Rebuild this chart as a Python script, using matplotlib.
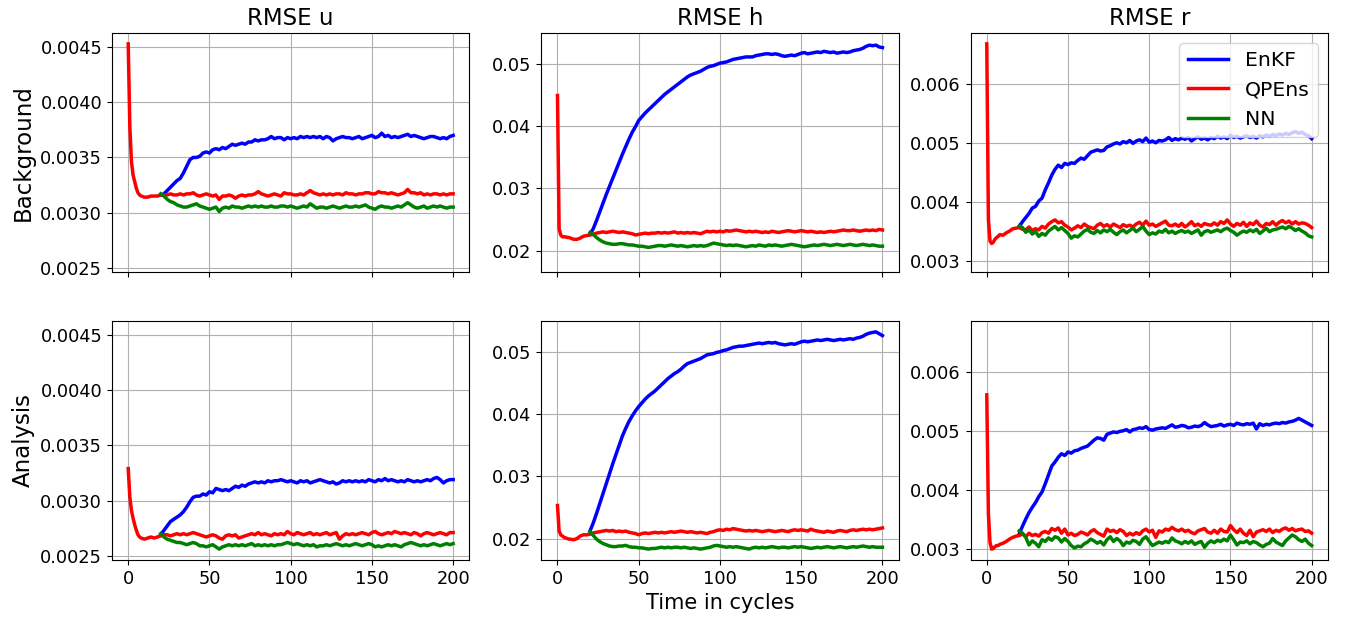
import matplotlib
matplotlib.use("Agg")
import matplotlib.pyplot as plt

# ---------------- data ----------------
HEAD_CYCLES = [0, 1, 2, 3, 4, 5, 6, 7, 8, 10, 12, 14, 16, 18]
CYCLES = list(range(20, 201, 2))

variables = ["u", "h", "r"]
rows = ["Background", "Analysis"]
methods = ["EnKF", "QPEns", "NN"]
colors = ["blue", "red", "green"]

# ---- Background, u ----
u_bg_qpens_head = [0.00453, 0.00378, 0.00346, 0.00334, 0.00328, 0.00322, 0.00318, 0.00316, 0.00315,
                   0.00314, 0.00314, 0.00315, 0.00315, 0.00315]
u_bg_qpens = [0.00316, 0.00316, 0.00316, 0.00317, 0.00316, 0.00316, 0.00317, 0.00316, 0.00317, 0.00317,
              0.00318, 0.00316, 0.00315, 0.00316, 0.00317, 0.00316, 0.00315, 0.00316, 0.00312, 0.00315,
              0.00315, 0.00316, 0.00315, 0.00313, 0.00315, 0.00316, 0.00315, 0.00316, 0.00316, 0.00317,
              0.00319, 0.00317, 0.00316, 0.00315, 0.00316, 0.00317, 0.00316, 0.00315, 0.00318, 0.00317,
              0.00317, 0.00316, 0.00316, 0.00317, 0.00316, 0.00318, 0.00320, 0.00318, 0.00317, 0.00316,
              0.00317, 0.00316, 0.00317, 0.00316, 0.00317, 0.00317, 0.00316, 0.00318, 0.00317, 0.00317,
              0.00316, 0.00317, 0.00317, 0.00318, 0.00318, 0.00317, 0.00317, 0.00319, 0.00318, 0.00318,
              0.00317, 0.00318, 0.00317, 0.00316, 0.00317, 0.00318, 0.00321, 0.00318, 0.00318, 0.00317,
              0.00318, 0.00316, 0.00317, 0.00316, 0.00317, 0.00317, 0.00316, 0.00317, 0.00316, 0.00317,
              0.00317]
u_bg_enkf = [0.00316, 0.00317, 0.00320, 0.00323, 0.00326, 0.00329, 0.00331, 0.00336, 0.00342, 0.00348,
             0.00350, 0.00350, 0.00351, 0.00354, 0.00355, 0.00354, 0.00357, 0.00358, 0.00357, 0.00359,
             0.00358, 0.00360, 0.00362, 0.00361, 0.00362, 0.00363, 0.00362, 0.00364, 0.00364, 0.00366,
             0.00365, 0.00366, 0.00366, 0.00367, 0.00369, 0.00367, 0.00368, 0.00368, 0.00366, 0.00368,
             0.00367, 0.00368, 0.00367, 0.00369, 0.00368, 0.00369, 0.00368, 0.00369, 0.00368, 0.00369,
             0.00367, 0.00369, 0.00368, 0.00365, 0.00367, 0.00368, 0.00369, 0.00368, 0.00368, 0.00367,
             0.00368, 0.00369, 0.00367, 0.00368, 0.00369, 0.00370, 0.00368, 0.00369, 0.00372, 0.00369,
             0.00370, 0.00368, 0.00369, 0.00368, 0.00369, 0.00370, 0.00371, 0.00369, 0.00370, 0.00369,
             0.00368, 0.00367, 0.00368, 0.00369, 0.00369, 0.00368, 0.00367, 0.00368, 0.00367, 0.00369,
             0.00370]
u_bg_nn = [0.00317, 0.00315, 0.00312, 0.00310, 0.00309, 0.00307, 0.00306, 0.00305, 0.00305, 0.00306,
           0.00307, 0.00308, 0.00306, 0.00305, 0.00304, 0.00303, 0.00304, 0.00305, 0.00301, 0.00304,
           0.00305, 0.00304, 0.00306, 0.00305, 0.00305, 0.00304, 0.00305, 0.00306, 0.00305, 0.00306,
           0.00305, 0.00306, 0.00305, 0.00305, 0.00306, 0.00305, 0.00305, 0.00306, 0.00306, 0.00305,
           0.00306, 0.00305, 0.00304, 0.00305, 0.00306, 0.00305, 0.00308, 0.00306, 0.00304, 0.00305,
           0.00305, 0.00304, 0.00305, 0.00306, 0.00305, 0.00304, 0.00305, 0.00306, 0.00305, 0.00305,
           0.00306, 0.00305, 0.00306, 0.00307, 0.00305, 0.00304, 0.00303, 0.00305, 0.00306, 0.00305,
           0.00305, 0.00304, 0.00305, 0.00306, 0.00305, 0.00307, 0.00309, 0.00307, 0.00305, 0.00304,
           0.00305, 0.00306, 0.00304, 0.00305, 0.00306, 0.00305, 0.00306, 0.00305, 0.00304, 0.00305,
           0.00305]

# ---- Background, h ----
h_bg_qpens_head = [0.0449, 0.0235, 0.0225, 0.0222, 0.0222, 0.0222, 0.0221, 0.0221, 0.0220,
                   0.0218, 0.0218, 0.0220, 0.0223, 0.0224]
h_bg_qpens = [0.0225, 0.0226, 0.0228, 0.0229, 0.0230, 0.0229, 0.0230, 0.0231, 0.0230, 0.0229,
              0.0230, 0.0229, 0.0228, 0.0227, 0.0225, 0.0226, 0.0227, 0.0228, 0.0227, 0.0228,
              0.0228, 0.0229, 0.0228, 0.0229, 0.0228, 0.0229, 0.0230, 0.0228, 0.0229, 0.0228,
              0.0229, 0.0228, 0.0229, 0.0228, 0.0227, 0.0229, 0.0231, 0.0230, 0.0231, 0.0230,
              0.0231, 0.0230, 0.0232, 0.0231, 0.0232, 0.0233, 0.0232, 0.0231, 0.0230, 0.0231,
              0.0230, 0.0231, 0.0230, 0.0229, 0.0230, 0.0229, 0.0231, 0.0230, 0.0229, 0.0230,
              0.0231, 0.0232, 0.0231, 0.0230, 0.0231, 0.0232, 0.0231, 0.0230, 0.0231, 0.0230,
              0.0229, 0.0230, 0.0229, 0.0230, 0.0231, 0.0230, 0.0231, 0.0232, 0.0233, 0.0232,
              0.0232, 0.0233, 0.0232, 0.0231, 0.0232, 0.0233, 0.0232, 0.0233, 0.0232, 0.0234,
              0.0233]
h_bg_enkf = [0.0226, 0.0235, 0.0248, 0.0262, 0.0276, 0.0290, 0.0303, 0.0316, 0.0329, 0.0342,
             0.0355, 0.0367, 0.0379, 0.0390, 0.0399, 0.0409, 0.0415, 0.0421, 0.0426, 0.0431,
             0.0436, 0.0441, 0.0446, 0.0451, 0.0455, 0.0459, 0.0463, 0.0467, 0.0471, 0.0475,
             0.0479, 0.0482, 0.0484, 0.0486, 0.0488, 0.0491, 0.0494, 0.0496, 0.0497, 0.0499,
             0.0501, 0.0502, 0.0503, 0.0505, 0.0507, 0.0508, 0.0509, 0.0510, 0.0511, 0.0511,
             0.0511, 0.0513, 0.0514, 0.0515, 0.0516, 0.0516, 0.0515, 0.0516, 0.0515, 0.0513,
             0.0512, 0.0513, 0.0514, 0.0513, 0.0515, 0.0517, 0.0518, 0.0516, 0.0517, 0.0518,
             0.0519, 0.0518, 0.0520, 0.0519, 0.0518, 0.0519, 0.0517, 0.0518, 0.0519, 0.0518,
             0.0519, 0.0521, 0.0522, 0.0523, 0.0525, 0.0528, 0.0530, 0.0529, 0.0530, 0.0527,
             0.0526]
h_bg_nn = [0.0229, 0.0226, 0.0221, 0.0217, 0.0214, 0.0212, 0.0211, 0.0210, 0.0210, 0.0211,
           0.0211, 0.0210, 0.0209, 0.0209, 0.0208, 0.0207, 0.0207, 0.0206, 0.0205, 0.0206,
           0.0207, 0.0208, 0.0208, 0.0207, 0.0208, 0.0209, 0.0208, 0.0207, 0.0208, 0.0207,
           0.0206, 0.0207, 0.0208, 0.0207, 0.0208, 0.0207, 0.0208, 0.0210, 0.0212, 0.0211,
           0.0210, 0.0209, 0.0208, 0.0209, 0.0208, 0.0209, 0.0208, 0.0207, 0.0206, 0.0207,
           0.0208, 0.0207, 0.0209, 0.0208, 0.0207, 0.0209, 0.0208, 0.0209, 0.0208, 0.0207,
           0.0208, 0.0209, 0.0210, 0.0209, 0.0208, 0.0207, 0.0206, 0.0207, 0.0208, 0.0209,
           0.0208, 0.0209, 0.0210, 0.0209, 0.0208, 0.0209, 0.0210, 0.0209, 0.0208, 0.0209,
           0.0210, 0.0209, 0.0208, 0.0209, 0.0210, 0.0209, 0.0208, 0.0209, 0.0208, 0.0207,
           0.0207]

# ---- Background, r ----
r_bg_qpens_head = [0.00668, 0.00370, 0.00333, 0.00329, 0.00331, 0.00336, 0.00339, 0.00341, 0.00344,
                   0.00343, 0.00347, 0.00350, 0.00354, 0.00355]
r_bg_qpens = [0.00356, 0.00353, 0.00352, 0.00357, 0.00351, 0.00354, 0.00352, 0.00358, 0.00355, 0.00362,
              0.00366, 0.00369, 0.00364, 0.00366, 0.00360, 0.00357, 0.00352, 0.00355, 0.00359, 0.00356,
              0.00362, 0.00358, 0.00356, 0.00354, 0.00360, 0.00363, 0.00358, 0.00361, 0.00357, 0.00362,
              0.00359, 0.00356, 0.00361, 0.00358, 0.00360, 0.00357, 0.00362, 0.00365, 0.00360, 0.00367,
              0.00360, 0.00362, 0.00358, 0.00361, 0.00364, 0.00367, 0.00360, 0.00359, 0.00362, 0.00358,
              0.00363, 0.00357, 0.00361, 0.00366, 0.00359, 0.00362, 0.00358, 0.00363, 0.00361, 0.00360,
              0.00364, 0.00360, 0.00366, 0.00363, 0.00369, 0.00362, 0.00358, 0.00363, 0.00360, 0.00365,
              0.00358, 0.00364, 0.00361, 0.00367, 0.00360, 0.00357, 0.00363, 0.00361, 0.00366, 0.00360,
              0.00365, 0.00368, 0.00364, 0.00367, 0.00362, 0.00366, 0.00362, 0.00364, 0.00363, 0.00360,
              0.00356]
r_bg_enkf = [0.00358, 0.00366, 0.00373, 0.00380, 0.00389, 0.00392, 0.00401, 0.00406, 0.00420, 0.00432,
             0.00445, 0.00455, 0.00462, 0.00458, 0.00465, 0.00463, 0.00466, 0.00465, 0.00470, 0.00474,
             0.00472, 0.00478, 0.00484, 0.00486, 0.00488, 0.00486, 0.00487, 0.00493, 0.00495, 0.00498,
             0.00500, 0.00498, 0.00502, 0.00500, 0.00504, 0.00499, 0.00503, 0.00505, 0.00502, 0.00508,
             0.00501, 0.00503, 0.00500, 0.00504, 0.00503, 0.00505, 0.00509, 0.00504, 0.00507, 0.00505,
             0.00508, 0.00506, 0.00509, 0.00503, 0.00507, 0.00510, 0.00506, 0.00508, 0.00505, 0.00509,
             0.00507, 0.00511, 0.00508, 0.00510, 0.00507, 0.00513, 0.00509, 0.00511, 0.00508, 0.00510,
             0.00512, 0.00509, 0.00511, 0.00508, 0.00512, 0.00510, 0.00513, 0.00511, 0.00514, 0.00512,
             0.00515, 0.00513, 0.00516, 0.00514, 0.00517, 0.00519, 0.00516, 0.00518, 0.00514, 0.00512,
             0.00507]
r_bg_nn = [0.00359, 0.00356, 0.00348, 0.00352, 0.00345, 0.00349, 0.00341, 0.00346, 0.00343, 0.00350,
           0.00354, 0.00358, 0.00352, 0.00356, 0.00351, 0.00346, 0.00338, 0.00342, 0.00340, 0.00345,
           0.00350, 0.00353, 0.00348, 0.00346, 0.00351, 0.00347, 0.00352, 0.00349, 0.00353, 0.00348,
           0.00344, 0.00349, 0.00352, 0.00347, 0.00351, 0.00355, 0.00349, 0.00353, 0.00358, 0.00350,
           0.00344, 0.00347, 0.00345, 0.00350, 0.00348, 0.00353, 0.00347, 0.00350, 0.00346, 0.00349,
           0.00351, 0.00348, 0.00350, 0.00346, 0.00349, 0.00352, 0.00343, 0.00349, 0.00351, 0.00348,
           0.00350, 0.00352, 0.00349, 0.00353, 0.00355, 0.00351, 0.00348, 0.00343, 0.00347, 0.00350,
           0.00348, 0.00352, 0.00349, 0.00353, 0.00346, 0.00350, 0.00355, 0.00349, 0.00352, 0.00353,
           0.00355, 0.00357, 0.00354, 0.00358, 0.00355, 0.00351, 0.00354, 0.00350, 0.00347, 0.00342,
           0.00340]

# ---- Analysis, u ----
u_an_qpens_head = [0.00329, 0.00303, 0.00291, 0.00284, 0.00278, 0.00273, 0.00269, 0.00267, 0.00266,
                   0.00265, 0.00266, 0.00267, 0.00266, 0.00267]
u_an_qpens = [0.00268, 0.00269, 0.00269, 0.00268, 0.00269, 0.00270, 0.00269, 0.00270, 0.00269, 0.00270,
              0.00271, 0.00270, 0.00269, 0.00268, 0.00267, 0.00268, 0.00269, 0.00268, 0.00266, 0.00265,
              0.00268, 0.00269, 0.00268, 0.00269, 0.00266, 0.00267, 0.00268, 0.00269, 0.00270, 0.00269,
              0.00271, 0.00269, 0.00270, 0.00269, 0.00268, 0.00270, 0.00269, 0.00270, 0.00269, 0.00272,
              0.00270, 0.00269, 0.00271, 0.00270, 0.00269, 0.00270, 0.00271, 0.00269, 0.00270, 0.00269,
              0.00270, 0.00271, 0.00269, 0.00270, 0.00271, 0.00265, 0.00268, 0.00270, 0.00269, 0.00270,
              0.00269, 0.00270, 0.00271, 0.00270, 0.00269, 0.00271, 0.00272, 0.00270, 0.00269, 0.00270,
              0.00271, 0.00270, 0.00272, 0.00271, 0.00270, 0.00271, 0.00270, 0.00269, 0.00271, 0.00270,
              0.00268, 0.00270, 0.00271, 0.00270, 0.00269, 0.00270, 0.00271, 0.00270, 0.00269, 0.00271,
              0.00271]
u_an_enkf = [0.00269, 0.00273, 0.00277, 0.00281, 0.00283, 0.00285, 0.00287, 0.00290, 0.00294, 0.00299,
             0.00303, 0.00304, 0.00304, 0.00306, 0.00305, 0.00308, 0.00307, 0.00311, 0.00310, 0.00309,
             0.00310, 0.00309, 0.00311, 0.00313, 0.00312, 0.00314, 0.00313, 0.00315, 0.00316, 0.00317,
             0.00316, 0.00317, 0.00316, 0.00318, 0.00317, 0.00318, 0.00318, 0.00319, 0.00318, 0.00317,
             0.00318, 0.00317, 0.00316, 0.00318, 0.00317, 0.00318, 0.00316, 0.00317, 0.00318, 0.00319,
             0.00318, 0.00317, 0.00316, 0.00317, 0.00315, 0.00316, 0.00318, 0.00317, 0.00318, 0.00317,
             0.00318, 0.00317, 0.00318, 0.00317, 0.00319, 0.00318, 0.00317, 0.00319, 0.00318, 0.00320,
             0.00318, 0.00319, 0.00318, 0.00317, 0.00318, 0.00317, 0.00319, 0.00318, 0.00317, 0.00318,
             0.00317, 0.00318, 0.00319, 0.00318, 0.00320, 0.00321, 0.00319, 0.00316, 0.00318, 0.00319,
             0.00319]
u_an_nn = [0.00270, 0.00267, 0.00265, 0.00264, 0.00263, 0.00262, 0.00262, 0.00261, 0.00260, 0.00261,
           0.00262, 0.00261, 0.00259, 0.00259, 0.00258, 0.00259, 0.00260, 0.00258, 0.00256, 0.00258,
           0.00259, 0.00260, 0.00259, 0.00260, 0.00259, 0.00260, 0.00259, 0.00260, 0.00261, 0.00259,
           0.00260, 0.00259, 0.00260, 0.00259, 0.00260, 0.00259, 0.00260, 0.00260, 0.00261, 0.00262,
           0.00261, 0.00260, 0.00261, 0.00260, 0.00259, 0.00260, 0.00259, 0.00260, 0.00258, 0.00259,
           0.00259, 0.00260, 0.00259, 0.00260, 0.00261, 0.00260, 0.00259, 0.00260, 0.00259, 0.00260,
           0.00261, 0.00260, 0.00259, 0.00260, 0.00261, 0.00260, 0.00258, 0.00259, 0.00258, 0.00259,
           0.00260, 0.00259, 0.00260, 0.00259, 0.00258, 0.00260, 0.00261, 0.00262, 0.00261, 0.00260,
           0.00259, 0.00260, 0.00259, 0.00260, 0.00261, 0.00260, 0.00259, 0.00260, 0.00261, 0.00260,
           0.00261]

# ---- Analysis, h ----
h_an_qpens_head = [0.0253, 0.0212, 0.0206, 0.0204, 0.0202, 0.0201, 0.0200, 0.0199, 0.0199,
                   0.0198, 0.0200, 0.0204, 0.0206, 0.0206]
h_an_qpens = [0.0207, 0.0209, 0.0210, 0.0211, 0.0212, 0.0213, 0.0212, 0.0213, 0.0211, 0.0212,
              0.0211, 0.0212, 0.0210, 0.0209, 0.0208, 0.0206, 0.0208, 0.0209, 0.0208, 0.0209,
              0.0210, 0.0209, 0.0210, 0.0209, 0.0210, 0.0211, 0.0210, 0.0211, 0.0212, 0.0211,
              0.0210, 0.0211, 0.0210, 0.0209, 0.0210, 0.0209, 0.0208, 0.0210, 0.0211, 0.0213,
              0.0214, 0.0213, 0.0215, 0.0214, 0.0216, 0.0215, 0.0214, 0.0213, 0.0212, 0.0213,
              0.0212, 0.0213, 0.0212, 0.0211, 0.0212, 0.0213, 0.0212, 0.0211, 0.0212, 0.0213,
              0.0212, 0.0211, 0.0213, 0.0214, 0.0213, 0.0214, 0.0213, 0.0212, 0.0215, 0.0213,
              0.0212, 0.0211, 0.0210, 0.0212, 0.0211, 0.0210, 0.0212, 0.0213, 0.0212, 0.0211,
              0.0213, 0.0214, 0.0213, 0.0214, 0.0215, 0.0214, 0.0215, 0.0214, 0.0215, 0.0216,
              0.0217]
h_an_enkf = [0.0212, 0.0225, 0.0240, 0.0256, 0.0272, 0.0288, 0.0304, 0.0320, 0.0335, 0.0350,
             0.0365, 0.0377, 0.0388, 0.0397, 0.0405, 0.0412, 0.0418, 0.0424, 0.0429, 0.0433,
             0.0437, 0.0442, 0.0447, 0.0452, 0.0457, 0.0461, 0.0465, 0.0468, 0.0472, 0.0477,
             0.0481, 0.0483, 0.0485, 0.0487, 0.0489, 0.0492, 0.0495, 0.0496, 0.0497, 0.0499,
             0.0500, 0.0502, 0.0503, 0.0505, 0.0507, 0.0508, 0.0509, 0.0509, 0.0510, 0.0511,
             0.0512, 0.0513, 0.0514, 0.0513, 0.0514, 0.0515, 0.0514, 0.0515, 0.0513, 0.0512,
             0.0511, 0.0512, 0.0513, 0.0512, 0.0514, 0.0516, 0.0517, 0.0516, 0.0517, 0.0518,
             0.0519, 0.0518, 0.0519, 0.0520, 0.0519, 0.0518, 0.0519, 0.0520, 0.0519, 0.0520,
             0.0521, 0.0520, 0.0522, 0.0523, 0.0525, 0.0528, 0.0530, 0.0531, 0.0532, 0.0529,
             0.0526]
h_an_nn = [0.0211, 0.0205, 0.0199, 0.0195, 0.0192, 0.0190, 0.0188, 0.0187, 0.0187, 0.0188,
           0.0188, 0.0189, 0.0187, 0.0186, 0.0186, 0.0185, 0.0185, 0.0184, 0.0183, 0.0184,
           0.0184, 0.0185, 0.0186, 0.0185, 0.0186, 0.0185, 0.0186, 0.0186, 0.0185, 0.0186,
           0.0185, 0.0184, 0.0185, 0.0184, 0.0183, 0.0184, 0.0185, 0.0186, 0.0188, 0.0189,
           0.0188, 0.0187, 0.0186, 0.0187, 0.0186, 0.0187, 0.0186, 0.0185, 0.0184, 0.0183,
           0.0185, 0.0186, 0.0185, 0.0186, 0.0185, 0.0186, 0.0187, 0.0186, 0.0185, 0.0186,
           0.0186, 0.0185, 0.0186, 0.0187, 0.0186, 0.0187, 0.0186, 0.0185, 0.0184, 0.0185,
           0.0186, 0.0185, 0.0186, 0.0187, 0.0186, 0.0185, 0.0186, 0.0187, 0.0186, 0.0185,
           0.0186, 0.0187, 0.0186, 0.0187, 0.0188, 0.0187, 0.0186, 0.0187, 0.0186, 0.0186,
           0.0186]

# ---- Analysis, r ----
r_an_qpens_head = [0.00561, 0.00360, 0.00310, 0.00299, 0.00300, 0.00303, 0.00305, 0.00305, 0.00307,
                   0.00309, 0.00312, 0.00316, 0.00319, 0.00321]
r_an_qpens = [0.00322, 0.00325, 0.00320, 0.00326, 0.00322, 0.00324, 0.00321, 0.00327, 0.00329, 0.00326,
              0.00334, 0.00331, 0.00335, 0.00326, 0.00333, 0.00323, 0.00326, 0.00322, 0.00324, 0.00328,
              0.00326, 0.00323, 0.00329, 0.00332, 0.00327, 0.00324, 0.00321, 0.00333, 0.00329, 0.00331,
              0.00327, 0.00332, 0.00329, 0.00322, 0.00326, 0.00323, 0.00327, 0.00324, 0.00330, 0.00333,
              0.00328, 0.00331, 0.00319, 0.00330, 0.00328, 0.00333, 0.00331, 0.00336, 0.00332, 0.00330,
              0.00333, 0.00329, 0.00331, 0.00327, 0.00325, 0.00330, 0.00332, 0.00334, 0.00328, 0.00326,
              0.00331, 0.00326, 0.00333, 0.00329, 0.00328, 0.00339, 0.00332, 0.00327, 0.00333, 0.00326,
              0.00322, 0.00331, 0.00320, 0.00328, 0.00330, 0.00332, 0.00329, 0.00333, 0.00327, 0.00331,
              0.00329, 0.00333, 0.00335, 0.00331, 0.00334, 0.00330, 0.00332, 0.00333, 0.00329, 0.00330,
              0.00326]
r_an_enkf = [0.00325, 0.00338, 0.00350, 0.00361, 0.00370, 0.00378, 0.00388, 0.00396, 0.00410, 0.00425,
             0.00440, 0.00447, 0.00455, 0.00461, 0.00458, 0.00464, 0.00462, 0.00466, 0.00467, 0.00470,
             0.00472, 0.00474, 0.00479, 0.00484, 0.00488, 0.00487, 0.00484, 0.00494, 0.00496, 0.00498,
             0.00497, 0.00499, 0.00500, 0.00502, 0.00498, 0.00502, 0.00503, 0.00505, 0.00504, 0.00507,
             0.00502, 0.00501, 0.00503, 0.00504, 0.00505, 0.00504, 0.00507, 0.00510, 0.00506, 0.00507,
             0.00509, 0.00508, 0.00505, 0.00506, 0.00508, 0.00507, 0.00509, 0.00514, 0.00510, 0.00507,
             0.00508, 0.00509, 0.00511, 0.00508, 0.00510, 0.00511, 0.00509, 0.00513, 0.00511, 0.00510,
             0.00512, 0.00511, 0.00513, 0.00503, 0.00512, 0.00509, 0.00511, 0.00510, 0.00512, 0.00513,
             0.00512, 0.00514, 0.00513, 0.00515, 0.00516, 0.00518, 0.00521, 0.00518, 0.00515, 0.00512,
             0.00509]
r_an_nn = [0.00330, 0.00326, 0.00319, 0.00306, 0.00313, 0.00309, 0.00303, 0.00315, 0.00312, 0.00318,
           0.00314, 0.00320, 0.00318, 0.00311, 0.00317, 0.00312, 0.00305, 0.00301, 0.00304, 0.00303,
           0.00308, 0.00311, 0.00316, 0.00313, 0.00309, 0.00312, 0.00306, 0.00315, 0.00320, 0.00312,
           0.00317, 0.00313, 0.00305, 0.00311, 0.00309, 0.00314, 0.00312, 0.00307, 0.00316, 0.00320,
           0.00312, 0.00305, 0.00308, 0.00311, 0.00309, 0.00312, 0.00310, 0.00318, 0.00313, 0.00311,
           0.00308, 0.00312, 0.00309, 0.00313, 0.00307, 0.00310, 0.00312, 0.00302, 0.00309, 0.00313,
           0.00310, 0.00314, 0.00312, 0.00316, 0.00313, 0.00323, 0.00315, 0.00306, 0.00311, 0.00310,
           0.00313, 0.00308, 0.00312, 0.00310, 0.00306, 0.00303, 0.00307, 0.00309, 0.00317, 0.00311,
           0.00308, 0.00305, 0.00313, 0.00318, 0.00323, 0.00320, 0.00315, 0.00312, 0.00316, 0.00309,
           0.00305]

series = {
    ("Background", "u"): (u_bg_enkf, u_bg_qpens_head, u_bg_qpens, u_bg_nn),
    ("Background", "h"): (h_bg_enkf, h_bg_qpens_head, h_bg_qpens, h_bg_nn),
    ("Background", "r"): (r_bg_enkf, r_bg_qpens_head, r_bg_qpens, r_bg_nn),
    ("Analysis", "u"): (u_an_enkf, u_an_qpens_head, u_an_qpens, u_an_nn),
    ("Analysis", "h"): (h_an_enkf, h_an_qpens_head, h_an_qpens, h_an_nn),
    ("Analysis", "r"): (r_an_enkf, r_an_qpens_head, r_an_qpens, r_an_nn),
}

# ---------------- plot ----------------
fig, axes = plt.subplots(2, 3, figsize=(13.49, 6.18), dpi=100, sharex=True, sharey="col")
fig.subplots_adjust(left=0.083, right=0.9844, bottom=0.0939, top=0.9466,
                    wspace=0.201, hspace=0.205)

LW = 2.5
for i, row in enumerate(rows):
    for j, var in enumerate(variables):
        ax = axes[i, j]
        enkf, q_head, q_tail, nn = series[(row, var)]
        ax.plot(CYCLES, enkf, color=colors[0], lw=LW, label=methods[0])
        ax.plot(HEAD_CYCLES + CYCLES, q_head + q_tail, color=colors[1], lw=LW, label=methods[1])
        ax.plot(CYCLES, nn, color=colors[2], lw=LW, label=methods[2])
        ax.grid(True)
        ax.tick_params(labelsize=12.8)
        if i == 0:
            ax.set_title(f"RMSE {var}", fontsize=16.5)
        if j == 0:
            ax.set_ylabel(row, fontsize=16.5)

axes[0, 0].set_xticks([0, 50, 100, 150, 200])
axes[1, 1].set_xlabel("Time in cycles", fontsize=15)
axes[0, 2].legend(loc="upper right", fontsize=14.7)

fig.savefig("out.png", dpi=100)
